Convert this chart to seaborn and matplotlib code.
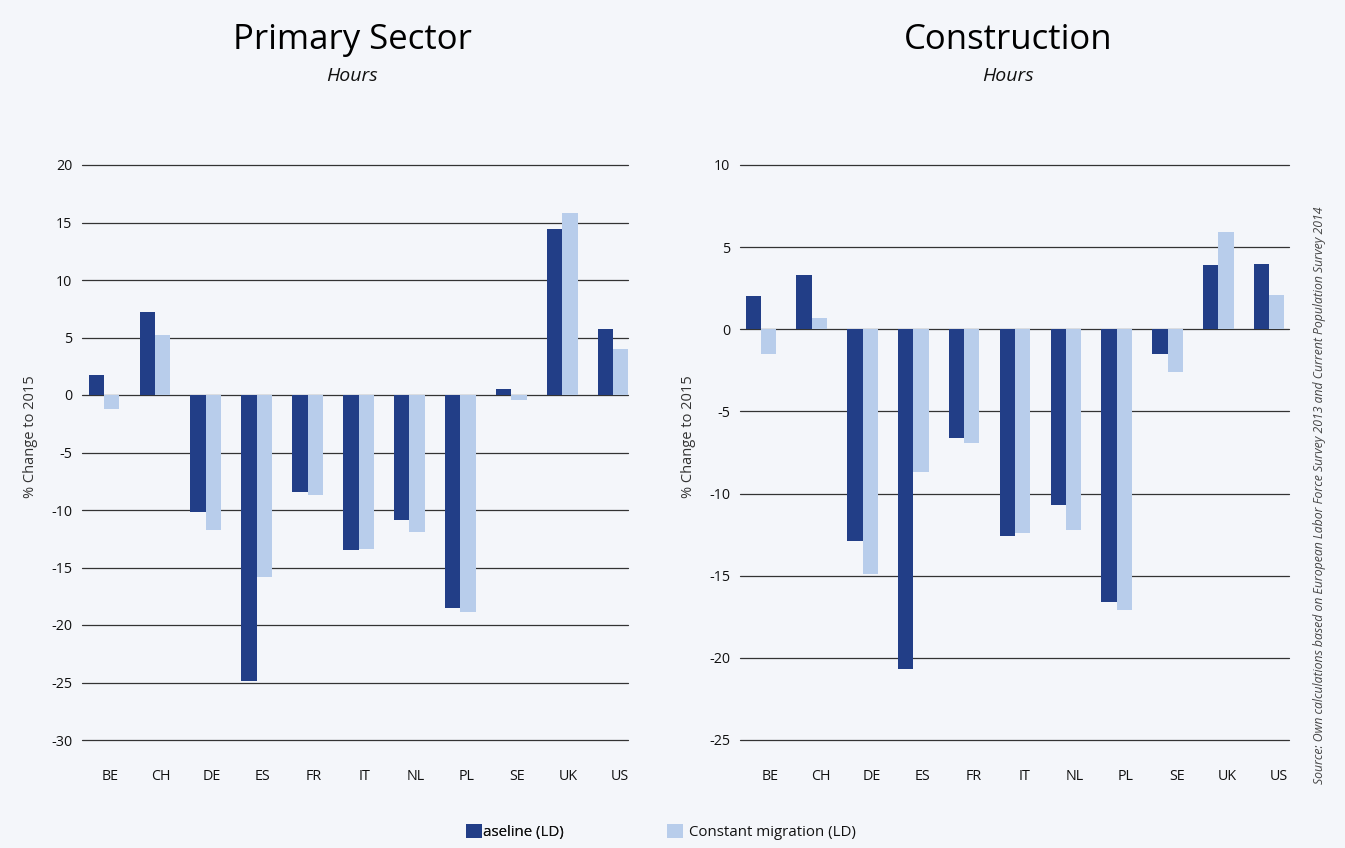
import numpy as np
import pandas as pd
import matplotlib
matplotlib.use("Agg")
import matplotlib.pyplot as plt
from matplotlib.patches import Patch
import seaborn as sns

countries = ["BE", "CH", "DE", "ES", "FR", "IT", "NL", "PL", "SE", "UK", "US"]
scenarios = ["Baseline (LD)", "Constant migration (LD)"]

primary_baseline = [1.7, 7.2, -10.2, -24.9, -8.4, -13.5, -10.9, -18.5, 0.5, 14.4, 5.7]
primary_constant = [-1.2, 5.2, -11.7, -15.8, -8.7, -13.4, -11.9, -18.9, -0.4, 15.8, 4.0]

construction_baseline = [2.0, 3.3, -12.9, -20.7, -6.6, -12.6, -10.7, -16.6, -1.5, 3.9, 4.0]
construction_constant = [-1.5, 0.7, -14.9, -8.7, -6.9, -12.4, -12.2, -17.1, -2.6, 5.9, 2.1]

primary_ticks = [20, 15, 10, 5, 0, -5, -10, -15, -20, -25, -30]
construction_ticks = [10, 5, 0, -5, -10, -15, -20, -25]

DARK = "#223e87"
LIGHT = "#b8cdeb"
BG = "#f4f6fa"
FONT = ["Open Sans", "DejaVu Sans"]

sns.set_theme(style="white")
plt.rcParams["font.family"] = FONT
plt.rcParams["text.color"] = "#111111"


def long_frame(base, const):
    return pd.DataFrame({
        "country": countries * 2,
        "value": list(base) + list(const),
        "scenario": [scenarios[0]] * len(countries) + [scenarios[1]] * len(countries),
    })


fig = plt.figure(figsize=(13.45, 8.48), dpi=100, facecolor=BG)

H, W = 848.0, 1345.0
top, bottom = 1 - 165 / H, 1 - 740 / H
ax1 = fig.add_axes([82 / W, bottom, (628 - 82) / W, top - bottom])
ax2 = fig.add_axes([740 / W, bottom, (1289 - 740) / W, top - bottom])

panels = [
    (ax1, long_frame(primary_baseline, primary_constant), primary_ticks, (-0.43, 10.29), 0.12),
    (ax2, long_frame(construction_baseline, construction_constant), construction_ticks, (-0.41, 10.39), 0.18),
]

for ax, df, ticks, xlim, lab_shift in panels:
    ax.set_facecolor(BG)
    sns.barplot(data=df, x="country", y="value", hue="scenario",
                palette=[DARK, LIGHT], width=0.6, saturation=1,
                edgecolor="none", linewidth=0, legend=False, ax=ax)
    ax.set_ylim(min(ticks), max(ticks))
    ax.set_xlim(*xlim)
    ax.set_yticks(ticks)
    ax.set_yticklabels([str(t) for t in ticks])
    ax.set_xticks(np.arange(len(countries)) + lab_shift)
    ax.set_xticklabels(countries)
    ax.set_xlabel("")
    ax.set_ylabel("")
    ax.yaxis.grid(True, color="#333333", linewidth=0.9)
    ax.xaxis.grid(False)
    ax.set_axisbelow(True)
    for line in ax.get_ygridlines():
        line.set_clip_on(False)
    for s in ax.spines.values():
        s.set_visible(False)
    ax.tick_params(axis="y", length=0, pad=7, labelsize=10.3, labelcolor="#111111")
    ax.tick_params(axis="x", length=0, pad=21, labelsize=10.3, labelcolor="#111111")

# titles and subtitles
fig.text(352 / W, 1 - 40 / H, "Primary Sector", ha="center", va="center", fontsize=25, color="#000000")
fig.text(1008 / W, 1 - 40 / H, "Construction", ha="center", va="center", fontsize=25, color="#000000")
fig.text(352 / W, 1 - 76 / H, "Hours", ha="center", va="center", fontsize=14, style="italic")
fig.text(1008 / W, 1 - 76 / H, "Hours", ha="center", va="center", fontsize=14, style="italic")

# y axis titles
fig.text(30 / W, 1 - 437 / H, "% Change to 2015", rotation=90, ha="center", va="center",
         fontsize=10.5, color="#333333")
fig.text(688 / W, 1 - 437 / H, "% Change to 2015", rotation=90, ha="center", va="center",
         fontsize=10.5, color="#333333")

# source note
fig.text(1320 / W, 1 - 495 / H,
         "Source: Own calculations based on European Labor Force Survey 2013 and Current Population Survey 2014",
         rotation=90, ha="center", va="center", fontsize=8.8, style="italic", color="#444444")

# legend entries
leg1 = fig.legend(handles=[Patch(facecolor=DARK, edgecolor="none")], labels=["aseline (LD)"],
                  loc="center left", bbox_to_anchor=(466 / W, 1 - 832 / H), frameon=False,
                  fontsize=10.8, handlelength=1.05, handleheight=1.1, handletextpad=0.05,
                  borderaxespad=0, borderpad=0)
fig.add_artist(leg1)
fig.legend(handles=[Patch(facecolor=LIGHT, edgecolor="none")], labels=["Constant migration (LD)"],
           loc="center left", bbox_to_anchor=(667 / W, 1 - 832 / H), frameon=False,
           fontsize=10.8, handlelength=1.05, handleheight=1.1, handletextpad=0.4,
           borderaxespad=0, borderpad=0)

fig.savefig("out.png", dpi=100, facecolor=BG)
